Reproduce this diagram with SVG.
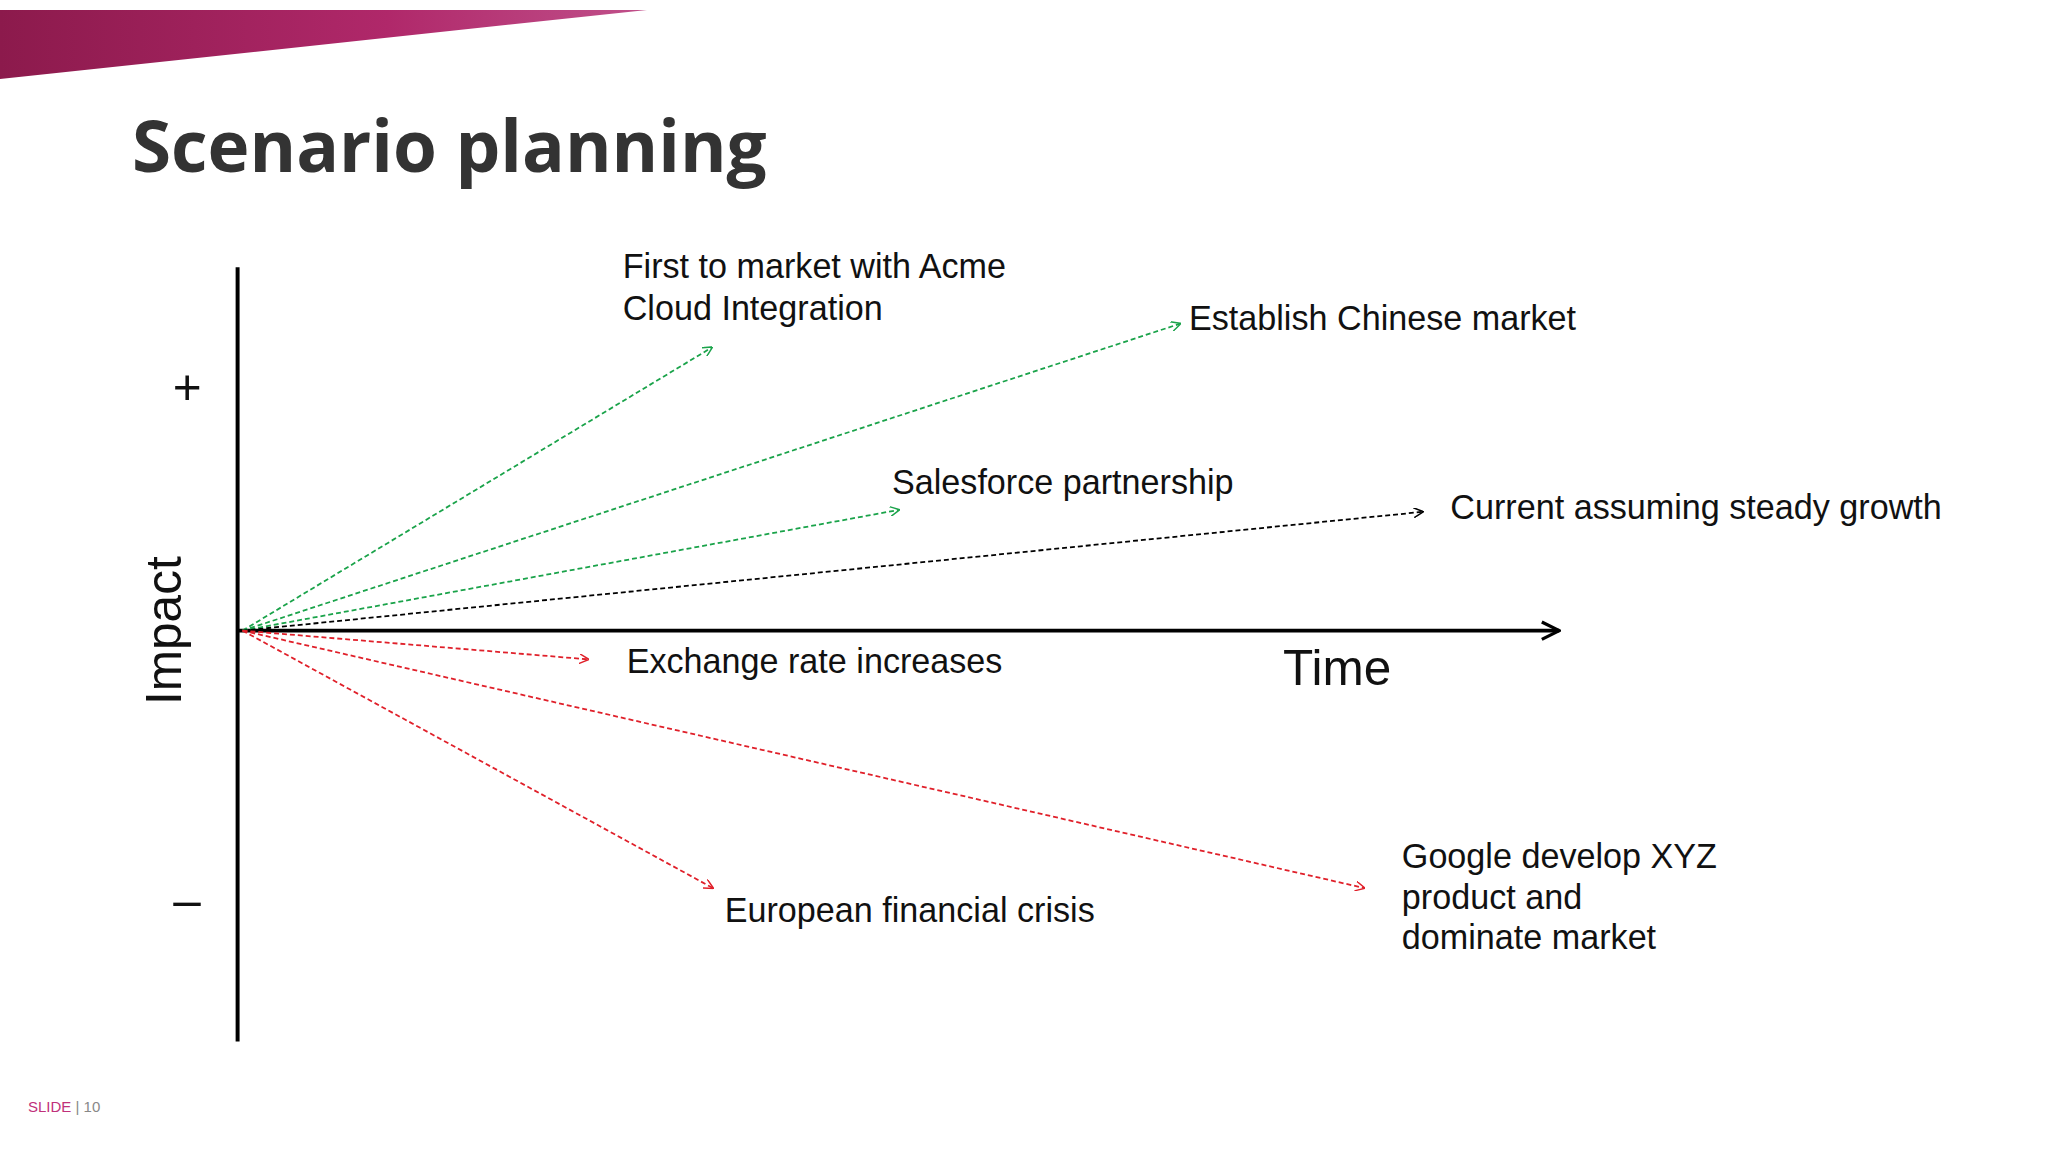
<svg xmlns="http://www.w3.org/2000/svg" width="2048" height="1152" viewBox="0 0 2048 1152">
<defs>
<linearGradient id="bn" x1="0" x2="1" y1="0" y2="0"><stop offset="0" stop-color="#8c1a4c"/><stop offset="0.6" stop-color="#b0286a"/><stop offset="1" stop-color="#c0508a"/></linearGradient>
<marker id="ag" viewBox="0 0 10 10" refX="9" refY="5" markerWidth="10" markerHeight="10" markerUnits="userSpaceOnUse" orient="auto"><path d="M0,0 L10,5 L0,10" fill="none" stroke="#1aa34a" stroke-width="1.5"/></marker>
<marker id="ar" viewBox="0 0 10 10" refX="9" refY="5" markerWidth="10" markerHeight="10" markerUnits="userSpaceOnUse" orient="auto"><path d="M0,0 L10,5 L0,10" fill="none" stroke="#e0202a" stroke-width="1.5"/></marker>
<marker id="ak" viewBox="0 0 10 10" refX="9" refY="5" markerWidth="10" markerHeight="10" markerUnits="userSpaceOnUse" orient="auto"><path d="M0,0 L10,5 L0,10" fill="none" stroke="#000" stroke-width="1.5"/></marker>
<marker id="ax" viewBox="0 0 20 20" refX="18" refY="10" markerWidth="22" markerHeight="22" markerUnits="userSpaceOnUse" orient="auto"><path d="M2,2 L18,10 L2,18" fill="none" stroke="#000" stroke-width="3"/></marker>
</defs>
<style>
.t{font-family:"Liberation Sans",Arial,sans-serif;font-size:34.5px;fill:#111}
.big{font-size:50px}
.g{stroke:#1aa34a;stroke-width:1.8;stroke-dasharray:5,3;fill:none;marker-end:url(#ag)}
.r{stroke:#e0202a;stroke-width:1.8;stroke-dasharray:5,3;fill:none;marker-end:url(#ar)}
.k{stroke:#000;stroke-width:1.8;stroke-dasharray:5,3;fill:none;marker-end:url(#ak)}
</style>
<rect width="2048" height="1152" fill="#fff"/>
<polygon points="0,10 647,10 0,79" fill="url(#bn)"/>
<text x="132" y="172" font-family="Open Sans,Liberation Sans,sans-serif" font-weight="bold" font-size="71" fill="#333">Scenario planning</text>
<g transform="scale(0.99)">
<g id="axes">
<line x1="240" y1="270" x2="240" y2="1052" stroke="#000" stroke-width="4"/>
<line x1="240" y1="637" x2="1575" y2="637" stroke="#000" stroke-width="4" marker-end="url(#ax)"/>
<text x="189" y="408" class="t big" text-anchor="middle">+</text>
<text x="189" y="926" class="t big" text-anchor="middle">–</text>
<text transform="translate(183,637) rotate(-90)" class="t big" text-anchor="middle">Impact</text>
<text x="1296" y="692" class="t big">Time</text>
</g>
<g id="connectors">
<line class="g" x1="245" y1="637" x2="719" y2="351"/>
<line class="g" x1="245" y1="637" x2="1192" y2="327"/>
<line class="g" x1="245" y1="637" x2="908" y2="515"/>
<line class="k" x1="245" y1="637" x2="1437" y2="517"/>
<line class="r" x1="245" y1="637" x2="594" y2="666"/>
<line class="r" x1="245" y1="637" x2="1378" y2="897"/>
<line class="r" x1="245" y1="637" x2="720" y2="897"/>
</g>
<g id="n1"><text class="t" x="629" y="281">First to market with Acme</text><text class="t" x="629" y="323">Cloud Integration</text></g>
<g id="n2"><text class="t" x="1201" y="333">Establish Chinese market</text></g>
<g id="n3"><text class="t" x="901" y="499">Salesforce partnership</text></g>
<g id="n4"><text class="t" x="1465" y="524">Current assuming steady growth</text></g>
<g id="n5"><text class="t" x="633" y="680">Exchange rate increases</text></g>
<g id="n6"><text class="t" x="732" y="931">European financial crisis</text></g>
<g id="n7"><text class="t" x="1416" y="877">Google develop XYZ</text><text class="t" x="1416" y="918">product and</text><text class="t" x="1416" y="959">dominate market</text></g>
</g>
<text x="28" y="1112" font-family="Liberation Sans,sans-serif" font-size="15"><tspan fill="#c0307a">SLIDE</tspan><tspan fill="#888"> | 10</tspan></text>
</svg>
